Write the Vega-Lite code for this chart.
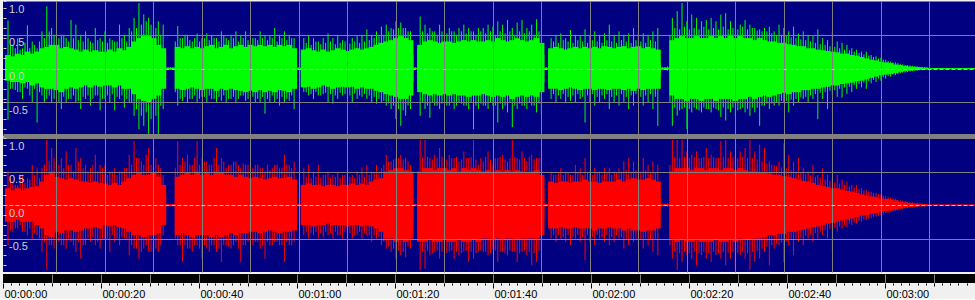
{
"$schema": "https://vega.github.io/schema/vega-lite/v6.json",
"background": "#f0f0f0",
"padding": 0,
"config": {"view": {"stroke": null}, "font": "Liberation Sans"},
"datasets": {
"wave": [
{"t":0,"gHi":0.2,"gLo":-0.18,"gMax":0.71,"gMin":-0.76,"rHi":0.25,"rLo":-0.25,"rMax":0.5,"rMin":-0.6},
{"t":1,"gHi":0.18,"gLo":-0.2,"gMax":0.35,"gMin":-0.3,"rHi":0.22,"rLo":-0.25,"rMax":0.35,"rMin":-0.4},
{"t":2,"gHi":0.22,"gLo":-0.2,"gMax":0.45,"gMin":-0.35,"rHi":0.25,"rLo":-0.22,"rMax":0.3,"rMin":-0.35},
{"t":3,"gHi":0.2,"gLo":-0.22,"gMax":0.3,"gMin":-0.45,"rHi":0.22,"rLo":-0.25,"rMax":0.45,"rMin":-0.4},
{"t":4,"gHi":0.25,"gLo":-0.2,"gMax":0.64,"gMin":-0.3,"rHi":0.25,"rLo":-0.25,"rMax":0.4,"rMin":-0.45},
{"t":5,"gHi":0.22,"gLo":-0.25,"gMax":0.4,"gMin":-0.5,"rHi":0.27,"rLo":-0.25,"rMax":0.6,"rMin":-0.5},
{"t":6,"gHi":0.25,"gLo":-0.22,"gMax":0.3,"gMin":-0.8,"rHi":0.28,"rLo":-0.3,"rMax":0.55,"rMin":-0.45},
{"t":7,"gHi":0.3,"gLo":-0.28,"gMax":0.55,"gMin":-0.4,"rHi":0.35,"rLo":-0.35,"rMax":0.55,"rMin":-0.7},
{"t":8,"gHi":0.32,"gLo":-0.3,"gMax":0.92,"gMin":-0.45,"rHi":0.45,"rLo":-0.45,"rMax":0.97,"rMin":-0.97},
{"t":9,"gHi":0.35,"gLo":-0.3,"gMax":0.6,"gMin":-0.5,"rHi":0.5,"rLo":-0.48,"rMax":0.85,"rMin":-0.6},
{"t":10,"gHi":0.35,"gLo":-0.32,"gMax":0.81,"gMin":-0.55,"rHi":0.42,"rLo":-0.4,"rMax":0.75,"rMin":-0.8},
{"t":11,"gHi":0.3,"gLo":-0.35,"gMax":0.5,"gMin":-0.6,"rHi":0.4,"rLo":-0.42,"rMax":0.7,"rMin":-0.6},
{"t":12,"gHi":0.32,"gLo":-0.3,"gMax":0.45,"gMin":-0.5,"rHi":0.38,"rLo":-0.38,"rMax":0.8,"rMin":-0.65},
{"t":13,"gHi":0.3,"gLo":-0.28,"gMax":0.72,"gMin":-0.45,"rHi":0.4,"rLo":-0.38,"rMax":0.6,"rMin":-0.55},
{"t":14,"gHi":0.28,"gLo":-0.3,"gMax":0.65,"gMin":-0.5,"rHi":0.38,"rLo":-0.4,"rMax":0.85,"rMin":-0.7},
{"t":15,"gHi":0.25,"gLo":-0.28,"gMax":0.5,"gMin":-0.6,"rHi":0.35,"rLo":-0.38,"rMax":0.7,"rMin":-0.8},
{"t":16,"gHi":0.28,"gLo":-0.25,"gMax":0.55,"gMin":-0.45,"rHi":0.35,"rLo":-0.35,"rMax":0.6,"rMin":-0.6},
{"t":17,"gHi":0.25,"gLo":-0.28,"gMax":0.4,"gMin":-0.55,"rHi":0.33,"rLo":-0.35,"rMax":0.55,"rMin":-0.55},
{"t":18,"gHi":0.27,"gLo":-0.25,"gMax":0.6,"gMin":-0.4,"rHi":0.35,"rLo":-0.33,"rMax":0.75,"rMin":-0.6},
{"t":19,"gHi":0.25,"gLo":-0.27,"gMax":0.45,"gMin":-0.62,"rHi":0.33,"rLo":-0.35,"rMax":0.6,"rMin":-0.65},
{"t":20,"gHi":0.25,"gLo":-0.25,"gMax":0.55,"gMin":-0.45,"rHi":0.32,"rLo":-0.3,"rMax":0.6,"rMin":-0.5},
{"t":21,"gHi":0.28,"gLo":-0.25,"gMax":0.45,"gMin":-0.5,"rHi":0.3,"rLo":-0.32,"rMax":0.5,"rMin":-0.7},
{"t":22,"gHi":0.25,"gLo":-0.28,"gMax":0.4,"gMin":-0.62,"rHi":0.33,"rLo":-0.3,"rMax":0.55,"rMin":-0.55},
{"t":23,"gHi":0.3,"gLo":-0.25,"gMax":0.65,"gMin":-0.45,"rHi":0.3,"rLo":-0.33,"rMax":0.5,"rMin":-0.6},
{"t":24,"gHi":0.27,"gLo":-0.3,"gMax":0.5,"gMin":-0.58,"rHi":0.35,"rLo":-0.35,"rMax":0.55,"rMin":-0.5},
{"t":25,"gHi":0.32,"gLo":-0.3,"gMax":0.6,"gMin":-0.5,"rHi":0.4,"rLo":-0.4,"rMax":0.75,"rMin":-0.75},
{"t":26,"gHi":0.4,"gLo":-0.38,"gMax":0.75,"gMin":-0.7,"rHi":0.45,"rLo":-0.45,"rMax":0.95,"rMin":-0.65},
{"t":27,"gHi":0.45,"gLo":-0.45,"gMax":0.97,"gMin":-0.9,"rHi":0.48,"rLo":-0.45,"rMax":0.7,"rMin":-0.8},
{"t":28,"gHi":0.5,"gLo":-0.48,"gMax":0.8,"gMin":-0.85,"rHi":0.45,"rLo":-0.48,"rMax":0.6,"rMin":-0.65},
{"t":29,"gHi":0.48,"gLo":-0.5,"gMax":0.75,"gMin":-0.97,"rHi":0.45,"rLo":-0.45,"rMax":0.85,"rMin":-0.7},
{"t":30,"gHi":0.45,"gLo":-0.45,"gMax":0.97,"gMin":-0.95,"rHi":0.48,"rLo":-0.45,"rMax":0.95,"rMin":-0.95},
{"t":31,"gHi":0.35,"gLo":-0.4,"gMax":0.7,"gMin":-0.97,"rHi":0.42,"rLo":-0.42,"rMax":0.6,"rMin":-0.7},
{"t":32,"gHi":0.3,"gLo":-0.3,"gMax":0.65,"gMin":-0.6,"rHi":0.3,"rLo":-0.3,"rMax":0.45,"rMin":-0.45},
{"t":33,"gHi":0.012,"gLo":-0.012,"gMax":0.02,"gMin":-0.02,"rHi":0.012,"rLo":-0.012,"rMax":0.02,"rMin":-0.02},
{"t":34,"gHi":0.012,"gLo":-0.012,"gMax":0.02,"gMin":-0.02,"rHi":0.012,"rLo":-0.012,"rMax":0.02,"rMin":-0.02},
{"t":35,"gHi":0.32,"gLo":-0.3,"gMax":0.63,"gMin":-0.55,"rHi":0.42,"rLo":-0.45,"rMax":0.95,"rMin":-0.6},
{"t":36,"gHi":0.3,"gLo":-0.32,"gMax":0.45,"gMin":-0.48,"rHi":0.45,"rLo":-0.42,"rMax":0.7,"rMin":-0.85},
{"t":37,"gHi":0.33,"gLo":-0.3,"gMax":0.5,"gMin":-0.5,"rHi":0.48,"rLo":-0.45,"rMax":0.75,"rMin":-0.65},
{"t":38,"gHi":0.3,"gLo":-0.28,"gMax":0.4,"gMin":-0.45,"rHi":0.45,"rLo":-0.48,"rMax":0.6,"rMin":-0.7},
{"t":39,"gHi":0.32,"gLo":-0.3,"gMax":0.52,"gMin":-0.5,"rHi":0.5,"rLo":-0.45,"rMax":0.95,"rMin":-0.6},
{"t":40,"gHi":0.3,"gLo":-0.32,"gMax":0.45,"gMin":-0.42,"rHi":0.45,"rLo":-0.45,"rMax":0.7,"rMin":-0.8},
{"t":41,"gHi":0.33,"gLo":-0.3,"gMax":0.52,"gMin":-0.5,"rHi":0.48,"rLo":-0.45,"rMax":0.65,"rMin":-0.65},
{"t":42,"gHi":0.35,"gLo":-0.3,"gMax":0.5,"gMin":-0.45,"rHi":0.45,"rLo":-0.48,"rMax":0.6,"rMin":-0.6},
{"t":43,"gHi":0.3,"gLo":-0.33,"gMax":0.45,"gMin":-0.5,"rHi":0.5,"rLo":-0.45,"rMax":0.85,"rMin":-0.7},
{"t":44,"gHi":0.32,"gLo":-0.3,"gMax":0.55,"gMin":-0.48,"rHi":0.48,"rLo":-0.48,"rMax":0.7,"rMin":-0.85},
{"t":45,"gHi":0.35,"gLo":-0.32,"gMax":0.45,"gMin":-0.5,"rHi":0.45,"rLo":-0.45,"rMax":0.55,"rMin":-0.6},
{"t":46,"gHi":0.3,"gLo":-0.3,"gMax":0.5,"gMin":-0.45,"rHi":0.45,"rLo":-0.42,"rMax":0.6,"rMin":-0.65},
{"t":47,"gHi":0.33,"gLo":-0.32,"gMax":0.55,"gMin":-0.5,"rHi":0.42,"rLo":-0.45,"rMax":0.65,"rMin":-0.55},
{"t":48,"gHi":0.35,"gLo":-0.33,"gMax":0.5,"gMin":-0.4,"rHi":0.45,"rLo":-0.42,"rMax":0.55,"rMin":-0.85},
{"t":49,"gHi":0.32,"gLo":-0.35,"gMax":0.55,"gMin":-0.48,"rHi":0.42,"rLo":-0.42,"rMax":0.6,"rMin":-0.6},
{"t":50,"gHi":0.35,"gLo":-0.33,"gMax":0.5,"gMin":-0.55,"rHi":0.4,"rLo":-0.4,"rMax":0.55,"rMin":-0.6},
{"t":51,"gHi":0.33,"gLo":-0.35,"gMax":0.45,"gMin":-0.5,"rHi":0.42,"rLo":-0.4,"rMax":0.6,"rMin":-0.55},
{"t":52,"gHi":0.35,"gLo":-0.32,"gMax":0.55,"gMin":-0.5,"rHi":0.4,"rLo":-0.42,"rMax":0.55,"rMin":-0.65},
{"t":53,"gHi":0.33,"gLo":-0.35,"gMax":0.5,"gMin":-0.67,"rHi":0.38,"rLo":-0.4,"rMax":0.5,"rMin":-0.8},
{"t":54,"gHi":0.35,"gLo":-0.33,"gMax":0.48,"gMin":-0.5,"rHi":0.4,"rLo":-0.38,"rMax":0.52,"rMin":-0.6},
{"t":55,"gHi":0.32,"gLo":-0.35,"gMax":0.6,"gMin":-0.5,"rHi":0.42,"rLo":-0.4,"rMax":0.6,"rMin":-0.55},
{"t":56,"gHi":0.35,"gLo":-0.32,"gMax":0.5,"gMin":-0.55,"rHi":0.4,"rLo":-0.42,"rMax":0.55,"rMin":-0.6},
{"t":57,"gHi":0.33,"gLo":-0.33,"gMax":0.55,"gMin":-0.5,"rHi":0.4,"rLo":-0.4,"rMax":0.75,"rMin":-0.85},
{"t":58,"gHi":0.35,"gLo":-0.35,"gMax":0.5,"gMin":-0.48,"rHi":0.42,"rLo":-0.4,"rMax":0.6,"rMin":-0.6},
{"t":59,"gHi":0.3,"gLo":-0.3,"gMax":0.45,"gMin":-0.6,"rHi":0.38,"rLo":-0.38,"rMax":0.65,"rMin":-0.55},
{"t":60,"gHi":0.012,"gLo":-0.012,"gMax":0.02,"gMin":-0.02,"rHi":0.012,"rLo":-0.012,"rMax":0.02,"rMin":-0.02},
{"t":61,"gHi":0.28,"gLo":-0.28,"gMax":0.45,"gMin":-0.35,"rHi":0.3,"rLo":-0.3,"rMax":0.55,"rMin":-0.45},
{"t":62,"gHi":0.3,"gLo":-0.27,"gMax":0.5,"gMin":-0.4,"rHi":0.32,"rLo":-0.3,"rMax":0.6,"rMin":-0.5},
{"t":63,"gHi":0.27,"gLo":-0.3,"gMax":0.45,"gMin":-0.45,"rHi":0.3,"rLo":-0.32,"rMax":0.5,"rMin":-0.45},
{"t":64,"gHi":0.25,"gLo":-0.28,"gMax":0.4,"gMin":-0.4,"rHi":0.3,"rLo":-0.3,"rMax":0.6,"rMin":-0.5},
{"t":65,"gHi":0.28,"gLo":-0.25,"gMax":0.45,"gMin":-0.38,"rHi":0.28,"rLo":-0.3,"rMax":0.45,"rMin":-0.48},
{"t":66,"gHi":0.25,"gLo":-0.27,"gMax":0.52,"gMin":-0.5,"rHi":0.3,"rLo":-0.28,"rMax":0.5,"rMin":-0.45},
{"t":67,"gHi":0.27,"gLo":-0.3,"gMax":0.45,"gMin":-0.52,"rHi":0.3,"rLo":-0.3,"rMax":0.45,"rMin":-0.5},
{"t":68,"gHi":0.3,"gLo":-0.28,"gMax":0.5,"gMin":-0.45,"rHi":0.28,"rLo":-0.3,"rMax":0.48,"rMin":-0.45},
{"t":69,"gHi":0.28,"gLo":-0.27,"gMax":0.42,"gMin":-0.4,"rHi":0.3,"rLo":-0.3,"rMax":0.45,"rMin":-0.5},
{"t":70,"gHi":0.26,"gLo":-0.28,"gMax":0.48,"gMin":-0.45,"rHi":0.3,"rLo":-0.32,"rMax":0.5,"rMin":-0.85},
{"t":71,"gHi":0.28,"gLo":-0.27,"gMax":0.45,"gMin":-0.5,"rHi":0.32,"rLo":-0.3,"rMax":0.45,"rMin":-0.5},
{"t":72,"gHi":0.3,"gLo":-0.3,"gMax":0.48,"gMin":-0.45,"rHi":0.3,"rLo":-0.3,"rMax":0.5,"rMin":-0.45},
{"t":73,"gHi":0.28,"gLo":-0.28,"gMax":0.5,"gMin":-0.42,"rHi":0.32,"rLo":-0.32,"rMax":0.55,"rMin":-0.5},
{"t":74,"gHi":0.3,"gLo":-0.3,"gMax":0.58,"gMin":-0.45,"rHi":0.3,"rLo":-0.3,"rMax":0.6,"rMin":-0.45},
{"t":75,"gHi":0.32,"gLo":-0.3,"gMax":0.5,"gMin":-0.5,"rHi":0.35,"rLo":-0.32,"rMax":0.5,"rMin":-0.55},
{"t":76,"gHi":0.35,"gLo":-0.33,"gMax":0.55,"gMin":-0.52,"rHi":0.38,"rLo":-0.35,"rMax":0.6,"rMin":-0.5},
{"t":77,"gHi":0.38,"gLo":-0.35,"gMax":0.62,"gMin":-0.5,"rHi":0.4,"rLo":-0.4,"rMax":0.55,"rMin":-0.6},
{"t":78,"gHi":0.4,"gLo":-0.38,"gMax":0.65,"gMin":-0.55,"rHi":0.5,"rLo":-0.5,"rMax":0.75,"rMin":-0.65},
{"t":79,"gHi":0.42,"gLo":-0.4,"gMax":0.6,"gMin":-0.6,"rHi":0.52,"rLo":-0.5,"rMax":0.65,"rMin":-0.7},
{"t":80,"gHi":0.45,"gLo":-0.42,"gMax":0.7,"gMin":-0.75,"rHi":0.55,"rLo":-0.55,"rMax":0.7,"rMin":-0.8},
{"t":81,"gHi":0.48,"gLo":-0.45,"gMax":0.68,"gMin":-0.85,"rHi":0.55,"rLo":-0.52,"rMax":0.75,"rMin":-0.75},
{"t":82,"gHi":0.45,"gLo":-0.45,"gMax":0.6,"gMin":-0.7,"rHi":0.52,"rLo":-0.55,"rMax":0.7,"rMin":-0.78},
{"t":83,"gHi":0.42,"gLo":-0.4,"gMax":0.55,"gMin":-0.6,"rHi":0.5,"rLo":-0.5,"rMax":0.6,"rMin":-0.65},
{"t":84,"gHi":0.012,"gLo":-0.012,"gMax":0.02,"gMin":-0.02,"rHi":0.012,"rLo":-0.012,"rMax":0.02,"rMin":-0.02},
{"t":85,"gHi":0.35,"gLo":-0.35,"gMax":0.77,"gMin":-0.7,"rHi":0.5,"rLo":-0.55,"rMax":0.97,"rMin":-0.97},
{"t":86,"gHi":0.4,"gLo":-0.38,"gMax":0.65,"gMin":-0.6,"rHi":0.55,"rLo":-0.55,"rMax":0.97,"rMin":-0.95},
{"t":87,"gHi":0.42,"gLo":-0.4,"gMax":0.6,"gMin":-0.73,"rHi":0.55,"rLo":-0.52,"rMax":0.7,"rMin":-0.75},
{"t":88,"gHi":0.4,"gLo":-0.38,"gMax":0.55,"gMin":-0.55,"rHi":0.52,"rLo":-0.55,"rMax":0.75,"rMin":-0.7},
{"t":89,"gHi":0.38,"gLo":-0.4,"gMax":0.65,"gMin":-0.6,"rHi":0.55,"rLo":-0.55,"rMax":0.85,"rMin":-0.8},
{"t":90,"gHi":0.4,"gLo":-0.38,"gMax":0.55,"gMin":-0.5,"rHi":0.55,"rLo":-0.52,"rMax":0.7,"rMin":-0.75},
{"t":91,"gHi":0.4,"gLo":-0.4,"gMax":0.6,"gMin":-0.55,"rHi":0.52,"rLo":-0.55,"rMax":0.75,"rMin":-0.7},
{"t":92,"gHi":0.38,"gLo":-0.38,"gMax":0.55,"gMin":-0.6,"rHi":0.55,"rLo":-0.55,"rMax":0.7,"rMin":-0.8},
{"t":93,"gHi":0.4,"gLo":-0.4,"gMax":0.6,"gMin":-0.5,"rHi":0.5,"rLo":-0.52,"rMax":0.65,"rMin":-0.75},
{"t":94,"gHi":0.42,"gLo":-0.4,"gMax":0.65,"gMin":-0.55,"rHi":0.55,"rLo":-0.55,"rMax":0.8,"rMin":-0.7},
{"t":95,"gHi":0.4,"gLo":-0.42,"gMax":0.6,"gMin":-0.6,"rHi":0.52,"rLo":-0.55,"rMax":0.7,"rMin":-0.85},
{"t":96,"gHi":0.42,"gLo":-0.4,"gMax":0.55,"gMin":-0.9,"rHi":0.55,"rLo":-0.52,"rMax":0.97,"rMin":-0.8},
{"t":97,"gHi":0.4,"gLo":-0.4,"gMax":0.6,"gMin":-0.6,"rHi":0.52,"rLo":-0.55,"rMax":0.6,"rMin":-0.7},
{"t":98,"gHi":0.4,"gLo":-0.38,"gMax":0.6,"gMin":-0.55,"rHi":0.5,"rLo":-0.5,"rMax":0.65,"rMin":-0.7},
{"t":99,"gHi":0.42,"gLo":-0.4,"gMax":0.65,"gMin":-0.6,"rHi":0.52,"rLo":-0.5,"rMax":0.8,"rMin":-0.75},
{"t":100,"gHi":0.4,"gLo":-0.42,"gMax":0.62,"gMin":-0.55,"rHi":0.5,"rLo":-0.52,"rMax":0.6,"rMin":-0.65},
{"t":101,"gHi":0.45,"gLo":-0.4,"gMax":0.7,"gMin":-0.8,"rHi":0.52,"rLo":-0.5,"rMax":0.7,"rMin":-0.85},
{"t":102,"gHi":0.42,"gLo":-0.42,"gMax":0.65,"gMin":-0.6,"rHi":0.5,"rLo":-0.52,"rMax":0.75,"rMin":-0.7},
{"t":103,"gHi":0.4,"gLo":-0.4,"gMax":0.72,"gMin":-0.65,"rHi":0.52,"rLo":-0.5,"rMax":0.65,"rMin":-0.75},
{"t":104,"gHi":0.42,"gLo":-0.45,"gMax":0.6,"gMin":-0.87,"rHi":0.5,"rLo":-0.5,"rMax":0.97,"rMin":-0.7},
{"t":105,"gHi":0.45,"gLo":-0.42,"gMax":0.68,"gMin":-0.6,"rHi":0.52,"rLo":-0.52,"rMax":0.7,"rMin":-0.85},
{"t":106,"gHi":0.42,"gLo":-0.4,"gMax":0.72,"gMin":-0.55,"rHi":0.5,"rLo":-0.5,"rMax":0.8,"rMin":-0.7},
{"t":107,"gHi":0.4,"gLo":-0.42,"gMax":0.6,"gMin":-0.6,"rHi":0.48,"rLo":-0.5,"rMax":0.65,"rMin":-0.75},
{"t":108,"gHi":0.42,"gLo":-0.4,"gMax":0.65,"gMin":-0.55,"rHi":0.5,"rLo":-0.5,"rMax":0.75,"rMin":-0.9},
{"t":109,"gHi":0.45,"gLo":-0.42,"gMax":0.73,"gMin":-0.65,"rHi":0.52,"rLo":-0.5,"rMax":0.7,"rMin":-0.85},
{"t":110,"gHi":0.38,"gLo":-0.35,"gMax":0.6,"gMin":-0.68,"rHi":0.45,"rLo":-0.45,"rMax":0.9,"rMin":-0.7},
{"t":111,"gHi":0.012,"gLo":-0.012,"gMax":0.02,"gMin":-0.02,"rHi":0.012,"rLo":-0.012,"rMax":0.02,"rMin":-0.02},
{"t":112,"gHi":0.3,"gLo":-0.3,"gMax":0.45,"gMin":-0.45,"rHi":0.35,"rLo":-0.35,"rMax":0.5,"rMin":-0.5},
{"t":113,"gHi":0.32,"gLo":-0.3,"gMax":0.5,"gMin":-0.5,"rHi":0.33,"rLo":-0.35,"rMax":0.45,"rMin":-0.55},
{"t":114,"gHi":0.3,"gLo":-0.32,"gMax":0.52,"gMin":-0.45,"rHi":0.35,"rLo":-0.33,"rMax":0.55,"rMin":-0.5},
{"t":115,"gHi":0.28,"gLo":-0.3,"gMax":0.45,"gMin":-0.5,"rHi":0.35,"rLo":-0.35,"rMax":0.5,"rMin":-0.55},
{"t":116,"gHi":0.3,"gLo":-0.28,"gMax":0.57,"gMin":-0.48,"rHi":0.33,"rLo":-0.35,"rMax":0.45,"rMin":-0.6},
{"t":117,"gHi":0.32,"gLo":-0.3,"gMax":0.5,"gMin":-0.5,"rHi":0.35,"rLo":-0.33,"rMax":0.6,"rMin":-0.5},
{"t":118,"gHi":0.3,"gLo":-0.32,"gMax":0.48,"gMin":-0.45,"rHi":0.35,"rLo":-0.35,"rMax":0.55,"rMin":-0.55},
{"t":119,"gHi":0.32,"gLo":-0.3,"gMax":0.58,"gMin":-0.8,"rHi":0.38,"rLo":-0.35,"rMax":0.7,"rMin":-0.82},
{"t":120,"gHi":0.3,"gLo":-0.3,"gMax":0.5,"gMin":-0.5,"rHi":0.35,"rLo":-0.35,"rMax":0.5,"rMin":-0.55},
{"t":121,"gHi":0.32,"gLo":-0.32,"gMax":0.55,"gMin":-0.55,"rHi":0.35,"rLo":-0.38,"rMax":0.55,"rMin":-0.6},
{"t":122,"gHi":0.3,"gLo":-0.3,"gMax":0.5,"gMin":-0.5,"rHi":0.33,"rLo":-0.35,"rMax":0.5,"rMin":-0.5},
{"t":123,"gHi":0.33,"gLo":-0.3,"gMax":0.52,"gMin":-0.45,"rHi":0.35,"rLo":-0.35,"rMax":0.55,"rMin":-0.55},
{"t":124,"gHi":0.32,"gLo":-0.32,"gMax":0.65,"gMin":-0.6,"rHi":0.35,"rLo":-0.33,"rMax":0.55,"rMin":-0.6},
{"t":125,"gHi":0.3,"gLo":-0.3,"gMax":0.5,"gMin":-0.5,"rHi":0.35,"rLo":-0.35,"rMax":0.5,"rMin":-0.55},
{"t":126,"gHi":0.32,"gLo":-0.3,"gMax":0.55,"gMin":-0.55,"rHi":0.38,"rLo":-0.35,"rMax":0.55,"rMin":-0.5},
{"t":127,"gHi":0.33,"gLo":-0.32,"gMax":0.5,"gMin":-0.5,"rHi":0.35,"rLo":-0.38,"rMax":0.65,"rMin":-0.65},
{"t":128,"gHi":0.3,"gLo":-0.3,"gMax":0.52,"gMin":-0.6,"rHi":0.38,"rLo":-0.35,"rMax":0.7,"rMin":-0.6},
{"t":129,"gHi":0.32,"gLo":-0.33,"gMax":0.6,"gMin":-0.55,"rHi":0.4,"rLo":-0.38,"rMax":0.65,"rMin":-0.55},
{"t":130,"gHi":0.33,"gLo":-0.3,"gMax":0.55,"gMin":-0.5,"rHi":0.38,"rLo":-0.38,"rMax":0.6,"rMin":-0.6},
{"t":131,"gHi":0.3,"gLo":-0.32,"gMax":0.52,"gMin":-0.55,"rHi":0.38,"rLo":-0.4,"rMax":0.7,"rMin":-0.65},
{"t":132,"gHi":0.32,"gLo":-0.3,"gMax":0.5,"gMin":-0.5,"rHi":0.4,"rLo":-0.38,"rMax":0.6,"rMin":-0.6},
{"t":133,"gHi":0.3,"gLo":-0.3,"gMax":0.55,"gMin":-0.6,"rHi":0.38,"rLo":-0.38,"rMax":0.65,"rMin":-0.7},
{"t":134,"gHi":0.28,"gLo":-0.3,"gMax":0.6,"gMin":-0.85,"rHi":0.35,"rLo":-0.35,"rMax":0.6,"rMin":-0.75},
{"t":135,"gHi":0.012,"gLo":-0.012,"gMax":0.02,"gMin":-0.02,"rHi":0.012,"rLo":-0.012,"rMax":0.02,"rMin":-0.02},
{"t":136,"gHi":0.015,"gLo":-0.015,"gMax":0.03,"gMin":-0.03,"rHi":0.015,"rLo":-0.015,"rMax":0.03,"rMin":-0.03},
{"t":137,"gHi":0.42,"gLo":-0.4,"gMax":0.75,"gMin":-0.85,"rHi":0.5,"rLo":-0.5,"rMax":0.97,"rMin":-0.8},
{"t":138,"gHi":0.45,"gLo":-0.45,"gMax":0.85,"gMin":-0.7,"rHi":0.55,"rLo":-0.55,"rMax":0.97,"rMin":-0.97},
{"t":139,"gHi":0.48,"gLo":-0.45,"gMax":0.97,"gMin":-0.6,"rHi":0.55,"rLo":-0.52,"rMax":0.97,"rMin":-0.85},
{"t":140,"gHi":0.45,"gLo":-0.48,"gMax":0.7,"gMin":-0.9,"rHi":0.55,"rLo":-0.55,"rMax":0.8,"rMin":-0.75},
{"t":141,"gHi":0.45,"gLo":-0.45,"gMax":0.8,"gMin":-0.65,"rHi":0.52,"rLo":-0.55,"rMax":0.75,"rMin":-0.8},
{"t":142,"gHi":0.48,"gLo":-0.45,"gMax":0.75,"gMin":-0.6,"rHi":0.55,"rLo":-0.52,"rMax":0.8,"rMin":-0.9},
{"t":143,"gHi":0.45,"gLo":-0.48,"gMax":0.7,"gMin":-0.65,"rHi":0.55,"rLo":-0.55,"rMax":0.7,"rMin":-0.75},
{"t":144,"gHi":0.45,"gLo":-0.45,"gMax":0.72,"gMin":-0.6,"rHi":0.52,"rLo":-0.55,"rMax":0.85,"rMin":-0.8},
{"t":145,"gHi":0.48,"gLo":-0.45,"gMax":0.75,"gMin":-0.65,"rHi":0.55,"rLo":-0.55,"rMax":0.75,"rMin":-0.85},
{"t":146,"gHi":0.45,"gLo":-0.48,"gMax":0.7,"gMin":-0.6,"rHi":0.55,"rLo":-0.52,"rMax":0.7,"rMin":-0.75},
{"t":147,"gHi":0.48,"gLo":-0.45,"gMax":0.8,"gMin":-0.72,"rHi":0.52,"rLo":-0.55,"rMax":0.95,"rMin":-0.8},
{"t":148,"gHi":0.45,"gLo":-0.45,"gMax":0.82,"gMin":-0.77,"rHi":0.55,"rLo":-0.55,"rMax":0.97,"rMin":-0.9},
{"t":149,"gHi":0.5,"gLo":-0.45,"gMax":0.7,"gMin":-0.65,"rHi":0.55,"rLo":-0.52,"rMax":0.8,"rMin":-0.8},
{"t":150,"gHi":0.45,"gLo":-0.48,"gMax":0.72,"gMin":-0.7,"rHi":0.52,"rLo":-0.55,"rMax":0.75,"rMin":-0.97},
{"t":151,"gHi":0.48,"gLo":-0.45,"gMax":0.65,"gMin":-0.6,"rHi":0.55,"rLo":-0.5,"rMax":0.8,"rMin":-0.75},
{"t":152,"gHi":0.45,"gLo":-0.45,"gMax":0.72,"gMin":-0.65,"rHi":0.52,"rLo":-0.52,"rMax":0.85,"rMin":-0.8},
{"t":153,"gHi":0.45,"gLo":-0.42,"gMax":0.65,"gMin":-0.7,"rHi":0.5,"rLo":-0.52,"rMax":0.97,"rMin":-0.97},
{"t":154,"gHi":0.42,"gLo":-0.45,"gMax":0.6,"gMin":-0.65,"rHi":0.5,"rLo":-0.5,"rMax":0.8,"rMin":-0.85},
{"t":155,"gHi":0.45,"gLo":-0.42,"gMax":0.58,"gMin":-0.85,"rHi":0.48,"rLo":-0.5,"rMax":0.9,"rMin":-0.8},
{"t":156,"gHi":0.42,"gLo":-0.4,"gMax":0.6,"gMin":-0.55,"rHi":0.48,"rLo":-0.48,"rMax":0.85,"rMin":-0.7},
{"t":157,"gHi":0.4,"gLo":-0.42,"gMax":0.62,"gMin":-0.6,"rHi":0.47,"rLo":-0.45,"rMax":0.65,"rMin":-0.9},
{"t":158,"gHi":0.4,"gLo":-0.4,"gMax":0.55,"gMin":-0.55,"rHi":0.45,"rLo":-0.45,"rMax":0.6,"rMin":-0.65},
{"t":159,"gHi":0.38,"gLo":-0.38,"gMax":0.65,"gMin":-0.55,"rHi":0.45,"rLo":-0.43,"rMax":0.65,"rMin":-0.6},
{"t":160,"gHi":0.38,"gLo":-0.36,"gMax":0.6,"gMin":-0.5,"rHi":0.43,"rLo":-0.43,"rMax":0.92,"rMin":-0.85},
{"t":161,"gHi":0.36,"gLo":-0.38,"gMax":0.55,"gMin":-0.65,"rHi":0.42,"rLo":-0.4,"rMax":0.75,"rMin":-0.6},
{"t":162,"gHi":0.35,"gLo":-0.35,"gMax":0.62,"gMin":-0.55,"rHi":0.4,"rLo":-0.4,"rMax":0.65,"rMin":-0.75},
{"t":163,"gHi":0.33,"gLo":-0.35,"gMax":0.52,"gMin":-0.5,"rHi":0.38,"rLo":-0.38,"rMax":0.7,"rMin":-0.55},
{"t":164,"gHi":0.33,"gLo":-0.32,"gMax":0.55,"gMin":-0.45,"rHi":0.36,"rLo":-0.37,"rMax":0.55,"rMin":-0.6},
{"t":165,"gHi":0.3,"gLo":-0.32,"gMax":0.5,"gMin":-0.5,"rHi":0.35,"rLo":-0.35,"rMax":0.5,"rMin":-0.5},
{"t":166,"gHi":0.3,"gLo":-0.3,"gMax":0.48,"gMin":-0.45,"rHi":0.33,"rLo":-0.33,"rMax":0.6,"rMin":-0.55},
{"t":167,"gHi":0.28,"gLo":-0.3,"gMax":0.58,"gMin":-0.75,"rHi":0.3,"rLo":-0.32,"rMax":0.45,"rMin":-0.5},
{"t":168,"gHi":0.27,"gLo":-0.28,"gMax":0.45,"gMin":-0.45,"rHi":0.28,"rLo":-0.3,"rMax":0.55,"rMin":-0.45},
{"t":169,"gHi":0.26,"gLo":-0.27,"gMax":0.42,"gMin":-0.6,"rHi":0.27,"rLo":-0.28,"rMax":0.45,"rMin":-0.5},
{"t":170,"gHi":0.25,"gLo":-0.25,"gMax":0.55,"gMin":-0.4,"rHi":0.25,"rLo":-0.27,"rMax":0.4,"rMin":-0.68},
{"t":171,"gHi":0.24,"gLo":-0.25,"gMax":0.4,"gMin":-0.42,"rHi":0.25,"rLo":-0.25,"rMax":0.45,"rMin":-0.4},
{"t":172,"gHi":0.22,"gLo":-0.23,"gMax":0.38,"gMin":-0.43,"rHi":0.23,"rLo":-0.23,"rMax":0.38,"rMin":-0.35},
{"t":173,"gHi":0.22,"gLo":-0.22,"gMax":0.35,"gMin":-0.38,"rHi":0.21,"rLo":-0.22,"rMax":0.35,"rMin":-0.33},
{"t":174,"gHi":0.2,"gLo":-0.21,"gMax":0.3,"gMin":-0.35,"rHi":0.2,"rLo":-0.2,"rMax":0.3,"rMin":-0.3},
{"t":175,"gHi":0.19,"gLo":-0.19,"gMax":0.28,"gMin":-0.3,"rHi":0.18,"rLo":-0.18,"rMax":0.3,"rMin":-0.28},
{"t":176,"gHi":0.17,"gLo":-0.18,"gMax":0.25,"gMin":-0.28,"rHi":0.16,"rLo":-0.16,"rMax":0.25,"rMin":-0.25},
{"t":177,"gHi":0.15,"gLo":-0.16,"gMax":0.25,"gMin":-0.3,"rHi":0.14,"rLo":-0.15,"rMax":0.22,"rMin":-0.22},
{"t":178,"gHi":0.13,"gLo":-0.14,"gMax":0.2,"gMin":-0.22,"rHi":0.13,"rLo":-0.13,"rMax":0.2,"rMin":-0.2},
{"t":179,"gHi":0.12,"gLo":-0.12,"gMax":0.18,"gMin":-0.2,"rHi":0.12,"rLo":-0.12,"rMax":0.18,"rMin":-0.17},
{"t":180,"gHi":0.1,"gLo":-0.1,"gMax":0.16,"gMin":-0.18,"rHi":0.1,"rLo":-0.1,"rMax":0.16,"rMin":-0.15},
{"t":181,"gHi":0.09,"gLo":-0.09,"gMax":0.13,"gMin":-0.15,"rHi":0.09,"rLo":-0.09,"rMax":0.13,"rMin":-0.12},
{"t":182,"gHi":0.08,"gLo":-0.08,"gMax":0.1,"gMin":-0.12,"rHi":0.08,"rLo":-0.08,"rMax":0.11,"rMin":-0.1},
{"t":183,"gHi":0.06,"gLo":-0.07,"gMax":0.09,"gMin":-0.1,"rHi":0.07,"rLo":-0.07,"rMax":0.09,"rMin":-0.09},
{"t":184,"gHi":0.05,"gLo":-0.05,"gMax":0.07,"gMin":-0.07,"rHi":0.05,"rLo":-0.05,"rMax":0.07,"rMin":-0.07},
{"t":185,"gHi":0.04,"gLo":-0.04,"gMax":0.05,"gMin":-0.06,"rHi":0.04,"rLo":-0.04,"rMax":0.06,"rMin":-0.05},
{"t":186,"gHi":0.03,"gLo":-0.03,"gMax":0.045,"gMin":-0.045,"rHi":0.03,"rLo":-0.03,"rMax":0.045,"rMin":-0.04},
{"t":187,"gHi":0.025,"gLo":-0.025,"gMax":0.035,"gMin":-0.035,"rHi":0.025,"rLo":-0.025,"rMax":0.03,"rMin":-0.03},
{"t":188,"gHi":0.02,"gLo":-0.02,"gMax":0.025,"gMin":-0.025,"rHi":0.02,"rLo":-0.02,"rMax":0.025,"rMin":-0.025},
{"t":189,"gHi":0.015,"gLo":-0.015,"gMax":0.02,"gMin":-0.02,"rHi":0.015,"rLo":-0.015,"rMax":0.02,"rMin":-0.02},
{"t":190,"gHi":0.008,"gLo":-0.008,"gMax":0.008,"gMin":-0.008,"rHi":0.008,"rLo":-0.008,"rMax":0.008,"rMin":-0.008},
{"t":191,"gHi":0.008,"gLo":-0.008,"gMax":0.008,"gMin":-0.008,"rHi":0.008,"rLo":-0.008,"rMax":0.008,"rMin":-0.008},
{"t":192,"gHi":0.008,"gLo":-0.008,"gMax":0.008,"gMin":-0.008,"rHi":0.008,"rLo":-0.008,"rMax":0.008,"rMin":-0.008},
{"t":193,"gHi":0.008,"gLo":-0.008,"gMax":0.008,"gMin":-0.008,"rHi":0.008,"rLo":-0.008,"rMax":0.008,"rMin":-0.008},
{"t":194,"gHi":0.008,"gLo":-0.008,"gMax":0.008,"gMin":-0.008,"rHi":0.008,"rLo":-0.008,"rMax":0.008,"rMin":-0.008},
{"t":195,"gHi":0.008,"gLo":-0.008,"gMax":0.008,"gMin":-0.008,"rHi":0.008,"rLo":-0.008,"rMax":0.008,"rMin":-0.008},
{"t":196,"gHi":0.008,"gLo":-0.008,"gMax":0.008,"gMin":-0.008,"rHi":0.008,"rLo":-0.008,"rMax":0.008,"rMin":-0.008},
{"t":197,"gHi":0.008,"gLo":-0.008,"gMax":0.008,"gMin":-0.008,"rHi":0.008,"rLo":-0.008,"rMax":0.008,"rMin":-0.008},
{"t":198,"gHi":0.008,"gLo":-0.008,"gMax":0.008,"gMin":-0.008,"rHi":0.008,"rLo":-0.008,"rMax":0.008,"rMin":-0.008},
{"t":199,"gHi":0.008,"gLo":-0.008,"gMax":0.008,"gMin":-0.008,"rHi":0.008,"rLo":-0.008,"rMax":0.008,"rMin":-0.008}
],
"spk": [
{"t":0.5,"gMax":0.35,"gMin":-0.3,"rMax":0.4,"rMin":-0.38},
{"t":1.5,"gMax":0.3,"gMin":-0.32,"rMax":0.3,"rMin":-0.35},
{"t":2.5,"gMax":0.28,"gMin":-0.35,"rMax":0.42,"rMin":-0.3},
{"t":3.5,"gMax":0.38,"gMin":-0.28,"rMax":0.33,"rMin":-0.4},
{"t":4.5,"gMax":0.3,"gMin":-0.4,"rMax":0.38,"rMin":-0.35},
{"t":5.5,"gMax":0.35,"gMin":-0.3,"rMax":0.45,"rMin":-0.42},
{"t":6.5,"gMax":0.4,"gMin":-0.35,"rMax":0.4,"rMin":-0.5},
{"t":7.5,"gMax":0.45,"gMin":-0.5,"rMax":0.6,"rMin":-0.55},
{"t":8.5,"gMax":0.55,"gMin":-0.4,"rMax":0.65,"rMin":-0.6},
{"t":9.5,"gMax":0.5,"gMin":-0.45,"rMax":0.7,"rMin":-0.65},
{"t":10.5,"gMax":0.45,"gMin":-0.5,"rMax":0.6,"rMin":-0.55},
{"t":11.5,"gMax":0.5,"gMin":-0.42,"rMax":0.55,"rMin":-0.6},
{"t":12.5,"gMax":0.4,"gMin":-0.45,"rMax":0.6,"rMin":-0.5},
{"t":13.5,"gMax":0.45,"gMin":-0.4,"rMax":0.5,"rMin":-0.6},
{"t":14.5,"gMax":0.42,"gMin":-0.48,"rMax":0.65,"rMin":-0.55},
{"t":15.5,"gMax":0.4,"gMin":-0.42,"rMax":0.55,"rMin":-0.6},
{"t":16.5,"gMax":0.45,"gMin":-0.4,"rMax":0.5,"rMin":-0.5},
{"t":17.5,"gMax":0.38,"gMin":-0.45,"rMax":0.6,"rMin":-0.48},
{"t":18.5,"gMax":0.42,"gMin":-0.4,"rMax":0.5,"rMin":-0.55},
{"t":19.5,"gMax":0.4,"gMin":-0.45,"rMax":0.55,"rMin":-0.5},
{"t":20.5,"gMax":0.38,"gMin":-0.4,"rMax":0.45,"rMin":-0.5},
{"t":21.5,"gMax":0.42,"gMin":-0.38,"rMax":0.5,"rMin":-0.45},
{"t":22.5,"gMax":0.4,"gMin":-0.42,"rMax":0.45,"rMin":-0.5},
{"t":23.5,"gMax":0.45,"gMin":-0.4,"rMax":0.5,"rMin":-0.48},
{"t":24.5,"gMax":0.4,"gMin":-0.45,"rMax":0.55,"rMin":-0.5},
{"t":25.5,"gMax":0.55,"gMin":-0.5,"rMax":0.6,"rMin":-0.6},
{"t":26.5,"gMax":0.6,"gMin":-0.6,"rMax":0.7,"rMin":-0.65},
{"t":27.5,"gMax":0.65,"gMin":-0.7,"rMax":0.65,"rMin":-0.7},
{"t":28.5,"gMax":0.7,"gMin":-0.65,"rMax":0.75,"rMin":-0.6},
{"t":29.5,"gMax":0.65,"gMin":-0.75,"rMax":0.6,"rMin":-0.7},
{"t":30.5,"gMax":0.6,"gMin":-0.7,"rMax":0.7,"rMin":-0.65},
{"t":31.5,"gMax":0.5,"gMin":-0.55,"rMax":0.55,"rMin":-0.6},
{"t":32.5,"gMax":0.2,"gMin":-0.2,"rMax":0.2,"rMin":-0.2},
{"t":33.5,"gMax":0.02,"gMin":-0.02,"rMax":0.02,"rMin":-0.02},
{"t":34.5,"gMax":0.4,"gMin":-0.35,"rMax":0.55,"rMin":-0.5},
{"t":35.5,"gMax":0.45,"gMin":-0.45,"rMax":0.6,"rMin":-0.6},
{"t":36.5,"gMax":0.5,"gMin":-0.42,"rMax":0.65,"rMin":-0.6},
{"t":37.5,"gMax":0.42,"gMin":-0.45,"rMax":0.6,"rMin":-0.65},
{"t":38.5,"gMax":0.45,"gMin":-0.4,"rMax":0.7,"rMin":-0.6},
{"t":39.5,"gMax":0.4,"gMin":-0.45,"rMax":0.6,"rMin":-0.65},
{"t":40.5,"gMax":0.45,"gMin":-0.42,"rMax":0.65,"rMin":-0.6},
{"t":41.5,"gMax":0.42,"gMin":-0.4,"rMax":0.6,"rMin":-0.7},
{"t":42.5,"gMax":0.45,"gMin":-0.45,"rMax":0.7,"rMin":-0.6},
{"t":43.5,"gMax":0.4,"gMin":-0.42,"rMax":0.6,"rMin":-0.65},
{"t":44.5,"gMax":0.48,"gMin":-0.4,"rMax":0.65,"rMin":-0.6},
{"t":45.5,"gMax":0.42,"gMin":-0.45,"rMax":0.6,"rMin":-0.62},
{"t":46.5,"gMax":0.45,"gMin":-0.42,"rMax":0.65,"rMin":-0.6},
{"t":47.5,"gMax":0.4,"gMin":-0.45,"rMax":0.6,"rMin":-0.65},
{"t":48.5,"gMax":0.45,"gMin":-0.4,"rMax":0.62,"rMin":-0.6},
{"t":49.5,"gMax":0.42,"gMin":-0.45,"rMax":0.6,"rMin":-0.55},
{"t":50.5,"gMax":0.45,"gMin":-0.42,"rMax":0.55,"rMin":-0.6},
{"t":51.5,"gMax":0.42,"gMin":-0.45,"rMax":0.6,"rMin":-0.55},
{"t":52.5,"gMax":0.45,"gMin":-0.42,"rMax":0.55,"rMin":-0.6},
{"t":53.5,"gMax":0.42,"gMin":-0.45,"rMax":0.6,"rMin":-0.55},
{"t":54.5,"gMax":0.45,"gMin":-0.4,"rMax":0.55,"rMin":-0.6},
{"t":55.5,"gMax":0.4,"gMin":-0.45,"rMax":0.6,"rMin":-0.55},
{"t":56.5,"gMax":0.45,"gMin":-0.42,"rMax":0.55,"rMin":-0.6},
{"t":57.5,"gMax":0.42,"gMin":-0.45,"rMax":0.6,"rMin":-0.55},
{"t":58.5,"gMax":0.45,"gMin":-0.4,"rMax":0.55,"rMin":-0.6},
{"t":59.5,"gMax":0.1,"gMin":-0.1,"rMax":0.1,"rMin":-0.1},
{"t":60.5,"gMax":0.25,"gMin":-0.25,"rMax":0.3,"rMin":-0.3},
{"t":61.5,"gMax":0.38,"gMin":-0.35,"rMax":0.42,"rMin":-0.4},
{"t":62.5,"gMax":0.35,"gMin":-0.38,"rMax":0.4,"rMin":-0.42},
{"t":63.5,"gMax":0.4,"gMin":-0.35,"rMax":0.42,"rMin":-0.4},
{"t":64.5,"gMax":0.36,"gMin":-0.4,"rMax":0.4,"rMin":-0.42},
{"t":65.5,"gMax":0.38,"gMin":-0.36,"rMax":0.45,"rMin":-0.4},
{"t":66.5,"gMax":0.4,"gMin":-0.38,"rMax":0.4,"rMin":-0.42},
{"t":67.5,"gMax":0.36,"gMin":-0.4,"rMax":0.42,"rMin":-0.4},
{"t":68.5,"gMax":0.38,"gMin":-0.36,"rMax":0.4,"rMin":-0.45},
{"t":69.5,"gMax":0.4,"gMin":-0.38,"rMax":0.45,"rMin":-0.4},
{"t":70.5,"gMax":0.37,"gMin":-0.4,"rMax":0.42,"rMin":-0.42},
{"t":71.5,"gMax":0.4,"gMin":-0.37,"rMax":0.4,"rMin":-0.45},
{"t":72.5,"gMax":0.38,"gMin":-0.4,"rMax":0.45,"rMin":-0.4},
{"t":73.5,"gMax":0.4,"gMin":-0.38,"rMax":0.42,"rMin":-0.42},
{"t":74.5,"gMax":0.42,"gMin":-0.4,"rMax":0.45,"rMin":-0.45},
{"t":75.5,"gMax":0.45,"gMin":-0.42,"rMax":0.48,"rMin":-0.45},
{"t":76.5,"gMax":0.48,"gMin":-0.45,"rMax":0.5,"rMin":-0.48},
{"t":77.5,"gMax":0.5,"gMin":-0.48,"rMax":0.6,"rMin":-0.55},
{"t":78.5,"gMax":0.55,"gMin":-0.52,"rMax":0.65,"rMin":-0.62},
{"t":79.5,"gMax":0.58,"gMin":-0.55,"rMax":0.68,"rMin":-0.65},
{"t":80.5,"gMax":0.6,"gMin":-0.6,"rMax":0.7,"rMin":-0.68},
{"t":81.5,"gMax":0.6,"gMin":-0.62,"rMax":0.68,"rMin":-0.7},
{"t":82.5,"gMax":0.55,"gMin":-0.55,"rMax":0.65,"rMin":-0.62},
{"t":83.5,"gMax":0.2,"gMin":-0.2,"rMax":0.25,"rMin":-0.25},
{"t":84.5,"gMax":0.3,"gMin":-0.3,"rMax":0.4,"rMin":-0.4},
{"t":85.5,"gMax":0.55,"gMin":-0.5,"rMax":0.7,"rMin":-0.7},
{"t":86.5,"gMax":0.52,"gMin":-0.55,"rMax":0.72,"rMin":-0.68},
{"t":87.5,"gMax":0.55,"gMin":-0.5,"rMax":0.68,"rMin":-0.72},
{"t":88.5,"gMax":0.5,"gMin":-0.55,"rMax":0.7,"rMin":-0.68},
{"t":89.5,"gMax":0.55,"gMin":-0.52,"rMax":0.72,"rMin":-0.7},
{"t":90.5,"gMax":0.52,"gMin":-0.55,"rMax":0.68,"rMin":-0.72},
{"t":91.5,"gMax":0.55,"gMin":-0.5,"rMax":0.7,"rMin":-0.68},
{"t":92.5,"gMax":0.5,"gMin":-0.55,"rMax":0.72,"rMin":-0.7},
{"t":93.5,"gMax":0.55,"gMin":-0.52,"rMax":0.68,"rMin":-0.72},
{"t":94.5,"gMax":0.52,"gMin":-0.55,"rMax":0.7,"rMin":-0.68},
{"t":95.5,"gMax":0.55,"gMin":-0.5,"rMax":0.72,"rMin":-0.7},
{"t":96.5,"gMax":0.5,"gMin":-0.55,"rMax":0.68,"rMin":-0.72},
{"t":97.5,"gMax":0.55,"gMin":-0.52,"rMax":0.7,"rMin":-0.68},
{"t":98.5,"gMax":0.52,"gMin":-0.55,"rMax":0.72,"rMin":-0.7},
{"t":99.5,"gMax":0.55,"gMin":-0.5,"rMax":0.68,"rMin":-0.72},
{"t":100.5,"gMax":0.5,"gMin":-0.55,"rMax":0.7,"rMin":-0.68},
{"t":101.5,"gMax":0.55,"gMin":-0.52,"rMax":0.72,"rMin":-0.7},
{"t":102.5,"gMax":0.52,"gMin":-0.55,"rMax":0.68,"rMin":-0.72},
{"t":103.5,"gMax":0.55,"gMin":-0.5,"rMax":0.7,"rMin":-0.68},
{"t":104.5,"gMax":0.5,"gMin":-0.55,"rMax":0.72,"rMin":-0.7},
{"t":105.5,"gMax":0.55,"gMin":-0.52,"rMax":0.68,"rMin":-0.72},
{"t":106.5,"gMax":0.52,"gMin":-0.55,"rMax":0.7,"rMin":-0.68},
{"t":107.5,"gMax":0.55,"gMin":-0.5,"rMax":0.72,"rMin":-0.7},
{"t":108.5,"gMax":0.5,"gMin":-0.55,"rMax":0.68,"rMin":-0.72},
{"t":109.5,"gMax":0.55,"gMin":-0.52,"rMax":0.7,"rMin":-0.68},
{"t":110.5,"gMax":0.2,"gMin":-0.2,"rMax":0.25,"rMin":-0.25},
{"t":111.5,"gMax":0.25,"gMin":-0.25,"rMax":0.3,"rMin":-0.3},
{"t":112.5,"gMax":0.4,"gMin":-0.38,"rMax":0.45,"rMin":-0.45},
{"t":113.5,"gMax":0.38,"gMin":-0.4,"rMax":0.48,"rMin":-0.45},
{"t":114.5,"gMax":0.42,"gMin":-0.38,"rMax":0.45,"rMin":-0.48},
{"t":115.5,"gMax":0.4,"gMin":-0.42,"rMax":0.48,"rMin":-0.45},
{"t":116.5,"gMax":0.38,"gMin":-0.4,"rMax":0.45,"rMin":-0.48},
{"t":117.5,"gMax":0.42,"gMin":-0.38,"rMax":0.48,"rMin":-0.45},
{"t":118.5,"gMax":0.4,"gMin":-0.42,"rMax":0.45,"rMin":-0.48},
{"t":119.5,"gMax":0.38,"gMin":-0.4,"rMax":0.48,"rMin":-0.45},
{"t":120.5,"gMax":0.42,"gMin":-0.38,"rMax":0.45,"rMin":-0.48},
{"t":121.5,"gMax":0.4,"gMin":-0.42,"rMax":0.48,"rMin":-0.45},
{"t":122.5,"gMax":0.38,"gMin":-0.4,"rMax":0.45,"rMin":-0.48},
{"t":123.5,"gMax":0.42,"gMin":-0.38,"rMax":0.48,"rMin":-0.45},
{"t":124.5,"gMax":0.4,"gMin":-0.42,"rMax":0.45,"rMin":-0.48},
{"t":125.5,"gMax":0.38,"gMin":-0.4,"rMax":0.48,"rMin":-0.45},
{"t":126.5,"gMax":0.42,"gMin":-0.38,"rMax":0.5,"rMin":-0.48},
{"t":127.5,"gMax":0.4,"gMin":-0.42,"rMax":0.52,"rMin":-0.5},
{"t":128.5,"gMax":0.38,"gMin":-0.4,"rMax":0.5,"rMin":-0.52},
{"t":129.5,"gMax":0.42,"gMin":-0.38,"rMax":0.52,"rMin":-0.5},
{"t":130.5,"gMax":0.4,"gMin":-0.42,"rMax":0.5,"rMin":-0.52},
{"t":131.5,"gMax":0.38,"gMin":-0.4,"rMax":0.52,"rMin":-0.5},
{"t":132.5,"gMax":0.42,"gMin":-0.38,"rMax":0.5,"rMin":-0.52},
{"t":133.5,"gMax":0.4,"gMin":-0.42,"rMax":0.48,"rMin":-0.5},
{"t":134.5,"gMax":0.1,"gMin":-0.1,"rMax":0.1,"rMin":-0.1},
{"t":135.5,"gMax":0.02,"gMin":-0.02,"rMax":0.02,"rMin":-0.02},
{"t":136.5,"gMax":0.5,"gMin":-0.5,"rMax":0.6,"rMin":-0.6},
{"t":137.5,"gMax":0.6,"gMin":-0.58,"rMax":0.72,"rMin":-0.7},
{"t":138.5,"gMax":0.58,"gMin":-0.62,"rMax":0.7,"rMin":-0.72},
{"t":139.5,"gMax":0.62,"gMin":-0.58,"rMax":0.72,"rMin":-0.7},
{"t":140.5,"gMax":0.58,"gMin":-0.6,"rMax":0.7,"rMin":-0.72},
{"t":141.5,"gMax":0.6,"gMin":-0.58,"rMax":0.72,"rMin":-0.7},
{"t":142.5,"gMax":0.58,"gMin":-0.62,"rMax":0.7,"rMin":-0.72},
{"t":143.5,"gMax":0.62,"gMin":-0.58,"rMax":0.72,"rMin":-0.7},
{"t":144.5,"gMax":0.58,"gMin":-0.6,"rMax":0.7,"rMin":-0.72},
{"t":145.5,"gMax":0.6,"gMin":-0.58,"rMax":0.72,"rMin":-0.7},
{"t":146.5,"gMax":0.58,"gMin":-0.62,"rMax":0.7,"rMin":-0.72},
{"t":147.5,"gMax":0.62,"gMin":-0.58,"rMax":0.72,"rMin":-0.7},
{"t":148.5,"gMax":0.58,"gMin":-0.6,"rMax":0.7,"rMin":-0.72},
{"t":149.5,"gMax":0.6,"gMin":-0.58,"rMax":0.72,"rMin":-0.7},
{"t":150.5,"gMax":0.58,"gMin":-0.62,"rMax":0.7,"rMin":-0.72},
{"t":151.5,"gMax":0.62,"gMin":-0.58,"rMax":0.72,"rMin":-0.7},
{"t":152.5,"gMax":0.58,"gMin":-0.6,"rMax":0.7,"rMin":-0.72},
{"t":153.5,"gMax":0.6,"gMin":-0.58,"rMax":0.7,"rMin":-0.7},
{"t":154.5,"gMax":0.56,"gMin":-0.58,"rMax":0.68,"rMin":-0.68},
{"t":155.5,"gMax":0.55,"gMin":-0.55,"rMax":0.65,"rMin":-0.65},
{"t":156.5,"gMax":0.55,"gMin":-0.52,"rMax":0.62,"rMin":-0.62},
{"t":157.5,"gMax":0.52,"gMin":-0.52,"rMax":0.6,"rMin":-0.6},
{"t":158.5,"gMax":0.5,"gMin":-0.5,"rMax":0.58,"rMin":-0.58},
{"t":159.5,"gMax":0.5,"gMin":-0.48,"rMax":0.56,"rMin":-0.56},
{"t":160.5,"gMax":0.48,"gMin":-0.48,"rMax":0.55,"rMin":-0.55},
{"t":161.5,"gMax":0.46,"gMin":-0.46,"rMax":0.52,"rMin":-0.52},
{"t":162.5,"gMax":0.45,"gMin":-0.45,"rMax":0.5,"rMin":-0.5},
{"t":163.5,"gMax":0.43,"gMin":-0.43,"rMax":0.48,"rMin":-0.48},
{"t":164.5,"gMax":0.42,"gMin":-0.42,"rMax":0.46,"rMin":-0.46},
{"t":165.5,"gMax":0.4,"gMin":-0.4,"rMax":0.44,"rMin":-0.44},
{"t":166.5,"gMax":0.38,"gMin":-0.38,"rMax":0.42,"rMin":-0.42},
{"t":167.5,"gMax":0.36,"gMin":-0.36,"rMax":0.4,"rMin":-0.4},
{"t":168.5,"gMax":0.35,"gMin":-0.35,"rMax":0.38,"rMin":-0.38},
{"t":169.5,"gMax":0.33,"gMin":-0.33,"rMax":0.36,"rMin":-0.36},
{"t":170.5,"gMax":0.32,"gMin":-0.32,"rMax":0.34,"rMin":-0.34},
{"t":171.5,"gMax":0.3,"gMin":-0.3,"rMax":0.32,"rMin":-0.32},
{"t":172.5,"gMax":0.28,"gMin":-0.28,"rMax":0.3,"rMin":-0.3},
{"t":173.5,"gMax":0.27,"gMin":-0.27,"rMax":0.28,"rMin":-0.28},
{"t":174.5,"gMax":0.25,"gMin":-0.25,"rMax":0.26,"rMin":-0.26},
{"t":175.5,"gMax":0.23,"gMin":-0.23,"rMax":0.24,"rMin":-0.24},
{"t":176.5,"gMax":0.21,"gMin":-0.21,"rMax":0.22,"rMin":-0.22},
{"t":177.5,"gMax":0.19,"gMin":-0.19,"rMax":0.2,"rMin":-0.2},
{"t":178.5,"gMax":0.17,"gMin":-0.17,"rMax":0.18,"rMin":-0.18},
{"t":179.5,"gMax":0.15,"gMin":-0.15,"rMax":0.16,"rMin":-0.16},
{"t":180.5,"gMax":0.13,"gMin":-0.13,"rMax":0.14,"rMin":-0.14},
{"t":181.5,"gMax":0.11,"gMin":-0.11,"rMax":0.12,"rMin":-0.12},
{"t":182.5,"gMax":0.09,"gMin":-0.09,"rMax":0.1,"rMin":-0.1},
{"t":183.5,"gMax":0.08,"gMin":-0.08,"rMax":0.08,"rMin":-0.08},
{"t":184.5,"gMax":0.06,"gMin":-0.06,"rMax":0.065,"rMin":-0.065},
{"t":185.5,"gMax":0.05,"gMin":-0.05,"rMax":0.05,"rMin":-0.05},
{"t":186.5,"gMax":0.04,"gMin":-0.04,"rMax":0.04,"rMin":-0.04},
{"t":187.5,"gMax":0.03,"gMin":-0.03,"rMax":0.03,"rMin":-0.03},
{"t":188.5,"gMax":0.025,"gMin":-0.025,"rMax":0.025,"rMin":-0.025},
{"t":189.5,"gMax":0.02,"gMin":-0.02,"rMax":0.02,"rMin":-0.02}
]
},
"spacing": 2,
"bounds": "flush",
"vconcat": [
{
"width": 975, "height": 135,
"view": {"fill": "#000080", "stroke": null},
"encoding": {
 "x": {"field": "t", "type": "quantitative", "scale": {"domain": [0, 199], "nice": false, "zero": false},
  "axis": {"values": [10,20,30,40,50,60,70,80,90,100,110,120,130,140,150,160,170,180,190], "title": null, "grid": true, "gridColor": "#808080", "gridWidth": 1, "ticks": false, "labels": false, "domain": true, "domainColor": "#808080", "domainWidth": 4, "offset": -0.5, "zindex": 1}}
},
"layer": [
 {"data": {"name": "wave"}, "mark": {"type": "bar", "width": 6, "color": "#00ff00", "clip": true},
  "encoding": {
   "y": {"field": "gLo", "type": "quantitative", "scale": {"domain": [-1, 1], "nice": false, "zero": false},
    "axis": {"values": [1,0.9,0.75,0.6,0.5,0.45,0.3,0.15,0,-0.15,-0.3,-0.45,-0.5,-0.6,-0.75,-0.9], "title": null, "domain": false, "grid": true,
     "gridColor": {"condition": {"test": "datum.value == 0", "value": "#c8c8c8"}, "value": "#808080"},
     "gridDash": {"condition": {"test": "datum.value == 0", "value": [4, 2]}, "value": []},
     "gridOpacity": {"condition": {"test": "datum.value == 0 || datum.value == 0.5 || datum.value == -0.5 || datum.value == 1", "value": 1}, "value": 0},
     "ticks": true, "tickSize": -3, "tickColor": "#d0d0d0",
     "labelExpr": "datum.value == 1 ? '1.0' : datum.value == 0.5 ? '0.5' : datum.value == 0 ? '0.0' : datum.value == -0.5 ? '-0.5' : ''",
     "labelAlign": "left", "labelBaseline": "top", "labelPadding": -2.5, "labelOffset": 2, "labelColor": "#d0d0d0", "labelFont": "Liberation Sans", "labelFontSize": 11, "labelOverlap": false, "labelFlush": false, "labelBound": false, "zindex": 1}},
   "y2": {"field": "gHi"}}},
 {"data": {"name": "wave"}, "mark": {"type": "rule", "color": "#00ff00", "strokeWidth": 1, "clip": true},
  "encoding": {
   "y": {"field": "gMin", "type": "quantitative",
    "axis": {"values": [1,0.9,0.75,0.6,0.5,0.45,0.3,0.15,0,-0.15,-0.3,-0.45,-0.5,-0.6,-0.75,-0.9], "title": null, "domain": false, "grid": true,
     "gridColor": {"condition": {"test": "datum.value == 0", "value": "#c8c8c8"}, "value": "#808080"},
     "gridDash": {"condition": {"test": "datum.value == 0", "value": [4, 2]}, "value": []},
     "gridOpacity": {"condition": {"test": "datum.value == 0 || datum.value == 0.5 || datum.value == -0.5 || datum.value == 1", "value": 1}, "value": 0},
     "ticks": true, "tickSize": -3, "tickColor": "#d0d0d0",
     "labelExpr": "datum.value == 1 ? '1.0' : datum.value == 0.5 ? '0.5' : datum.value == 0 ? '0.0' : datum.value == -0.5 ? '-0.5' : ''",
     "labelAlign": "left", "labelBaseline": "top", "labelPadding": -2.5, "labelOffset": 2, "labelColor": "#d0d0d0", "labelFont": "Liberation Sans", "labelFontSize": 11, "labelOverlap": false, "labelFlush": false, "labelBound": false, "zindex": 1}},
   "y2": {"field": "gMax"}}},
 {"data": {"name": "spk"}, "mark": {"type": "rule", "color": "#00ff00", "strokeWidth": 1, "clip": true},
  "encoding": {
   "y": {"field": "gMin", "type": "quantitative",
    "axis": {"values": [1,0.9,0.75,0.6,0.5,0.45,0.3,0.15,0,-0.15,-0.3,-0.45,-0.5,-0.6,-0.75,-0.9], "title": null, "domain": false, "grid": true,
     "gridColor": {"condition": {"test": "datum.value == 0", "value": "#c8c8c8"}, "value": "#808080"},
     "gridDash": {"condition": {"test": "datum.value == 0", "value": [4, 2]}, "value": []},
     "gridOpacity": {"condition": {"test": "datum.value == 0 || datum.value == 0.5 || datum.value == -0.5 || datum.value == 1", "value": 1}, "value": 0},
     "ticks": true, "tickSize": -3, "tickColor": "#d0d0d0",
     "labelExpr": "datum.value == 1 ? '1.0' : datum.value == 0.5 ? '0.5' : datum.value == 0 ? '0.0' : datum.value == -0.5 ? '-0.5' : ''",
     "labelAlign": "left", "labelBaseline": "top", "labelPadding": -2.5, "labelOffset": 2, "labelColor": "#d0d0d0", "labelFont": "Liberation Sans", "labelFontSize": 11, "labelOverlap": false, "labelFlush": false, "labelBound": false, "zindex": 1}},
   "y2": {"field": "gMax"}}}
]
},
{
"width": 975, "height": 134,
"view": {"fill": "#000080", "stroke": null},
"encoding": {
 "x": {"field": "t", "type": "quantitative", "scale": {"domain": [0, 199], "nice": false, "zero": false},
  "axis": {"values": [10,20,30,40,50,60,70,80,90,100,110,120,130,140,150,160,170,180,190], "title": null, "grid": true, "gridColor": "#808080", "gridWidth": 1, "ticks": false, "labels": false, "domain": false, "zindex": 1}}
},
"layer": [
 {"data": {"name": "wave"}, "mark": {"type": "bar", "width": 6, "color": "#ff0000", "clip": true},
  "encoding": {
   "y": {"field": "rLo", "type": "quantitative", "scale": {"domain": [-1, 1], "nice": false, "zero": false},
    "axis": {"values": [1,0.9,0.75,0.6,0.5,0.45,0.3,0.15,0,-0.15,-0.3,-0.45,-0.5,-0.6,-0.75,-0.9], "title": null, "domain": false, "grid": true,
     "gridColor": {"condition": {"test": "datum.value == 0", "value": "#c8c8c8"}, "value": "#808080"},
     "gridDash": {"condition": {"test": "datum.value == 0", "value": [4, 2]}, "value": []},
     "gridOpacity": {"condition": {"test": "datum.value == 0 || datum.value == 0.5 || datum.value == -0.5 || datum.value == 1", "value": 1}, "value": 0},
     "ticks": true, "tickSize": -3, "tickColor": "#d0d0d0",
     "labelExpr": "datum.value == 1 ? '1.0' : datum.value == 0.5 ? '0.5' : datum.value == 0 ? '0.0' : datum.value == -0.5 ? '-0.5' : ''",
     "labelAlign": "left", "labelBaseline": "top", "labelPadding": -2.5, "labelOffset": 2, "labelColor": "#d0d0d0", "labelFont": "Liberation Sans", "labelFontSize": 11, "labelOverlap": false, "labelFlush": false, "labelBound": false, "zindex": 1}},
   "y2": {"field": "rHi"}}},
 {"data": {"name": "wave"}, "mark": {"type": "rule", "color": "#ff0000", "strokeWidth": 1, "clip": true},
  "encoding": {
   "y": {"field": "rMin", "type": "quantitative",
    "axis": {"values": [1,0.9,0.75,0.6,0.5,0.45,0.3,0.15,0,-0.15,-0.3,-0.45,-0.5,-0.6,-0.75,-0.9], "title": null, "domain": false, "grid": true,
     "gridColor": {"condition": {"test": "datum.value == 0", "value": "#c8c8c8"}, "value": "#808080"},
     "gridDash": {"condition": {"test": "datum.value == 0", "value": [4, 2]}, "value": []},
     "gridOpacity": {"condition": {"test": "datum.value == 0 || datum.value == 0.5 || datum.value == -0.5 || datum.value == 1", "value": 1}, "value": 0},
     "ticks": true, "tickSize": -3, "tickColor": "#d0d0d0",
     "labelExpr": "datum.value == 1 ? '1.0' : datum.value == 0.5 ? '0.5' : datum.value == 0 ? '0.0' : datum.value == -0.5 ? '-0.5' : ''",
     "labelAlign": "left", "labelBaseline": "top", "labelPadding": -2.5, "labelOffset": 2, "labelColor": "#d0d0d0", "labelFont": "Liberation Sans", "labelFontSize": 11, "labelOverlap": false, "labelFlush": false, "labelBound": false, "zindex": 1}},
   "y2": {"field": "rMax"}}},
 {"data": {"name": "spk"}, "mark": {"type": "rule", "color": "#ff0000", "strokeWidth": 1, "clip": true},
  "encoding": {
   "y": {"field": "rMin", "type": "quantitative",
    "axis": {"values": [1,0.9,0.75,0.6,0.5,0.45,0.3,0.15,0,-0.15,-0.3,-0.45,-0.5,-0.6,-0.75,-0.9], "title": null, "domain": false, "grid": true,
     "gridColor": {"condition": {"test": "datum.value == 0", "value": "#c8c8c8"}, "value": "#808080"},
     "gridDash": {"condition": {"test": "datum.value == 0", "value": [4, 2]}, "value": []},
     "gridOpacity": {"condition": {"test": "datum.value == 0 || datum.value == 0.5 || datum.value == -0.5 || datum.value == 1", "value": 1}, "value": 0},
     "ticks": true, "tickSize": -3, "tickColor": "#d0d0d0",
     "labelExpr": "datum.value == 1 ? '1.0' : datum.value == 0.5 ? '0.5' : datum.value == 0 ? '0.0' : datum.value == -0.5 ? '-0.5' : ''",
     "labelAlign": "left", "labelBaseline": "top", "labelPadding": -2.5, "labelOffset": 2, "labelColor": "#d0d0d0", "labelFont": "Liberation Sans", "labelFontSize": 11, "labelOverlap": false, "labelFlush": false, "labelBound": false, "zindex": 1}},
   "y2": {"field": "rMax"}}}
]
},
{
"width": 975, "height": 9,
"data": {"name": "wave"},
"view": {"fill": "#000000", "stroke": null},
"mark": {"type": "point", "opacity": 0},
"encoding": {
 "x": {"field": "t", "type": "quantitative", "scale": {"domain": [0, 199], "nice": false, "zero": false},
  "axis": {"values": [0,1.667,3.333,5,6.667,8.333,10,11.667,13.333,15,16.667,18.333,20,21.667,23.333,25,26.667,28.333,30,31.667,33.333,35,36.667,38.333,40,41.667,43.333,45,46.667,48.333,50,51.667,53.333,55,56.667,58.333,60,61.667,63.333,65,66.667,68.333,70,71.667,73.333,75,76.667,78.333,80,81.667,83.333,85,86.667,88.333,90,91.667,93.333,95,96.667,98.333,100,101.667,103.333,105,106.667,108.333,110,111.667,113.333,115,116.667,118.333,120,121.667,123.333,125,126.667,128.333,130,131.667,133.333,135,136.667,138.333,140,141.667,143.333,145,146.667,148.333,150,151.667,153.333,155,156.667,158.333,160,161.667,163.333,165,166.667,168.333,170,171.667,173.333,175,176.667,178.333,180,181.667,183.333,185,186.667,188.333,190,191.667,193.333,195,196.667,198.333],
   "title": null, "domain": false, "grid": true, "gridColor": "#808080",
   "gridOpacity": {"condition": {"test": "datum.value % 10 == 0 && datum.value > 0", "value": 1}, "value": 0},
   "ticks": true, "tickColor": "#000000", "tickWidth": 1,
   "tickSize": {"condition": [{"test": "datum.value % 20 == 0", "value": 5}, {"test": "datum.value % 10 == 0", "value": 3}], "value": 2},
   "labelExpr": "datum.value % 20 == 0 ? utcFormat(datum.value * 1000, '%H:%M:%S') : ''",
   "labelAlign": "left", "labelBaseline": "top", "labelPadding": 0, "labelOffset": 1, "labelColor": "#000000", "labelFont": "Liberation Sans", "labelFontSize": 11, "labelOverlap": false, "labelFlush": false, "labelBound": false}}
}
}
]
}
